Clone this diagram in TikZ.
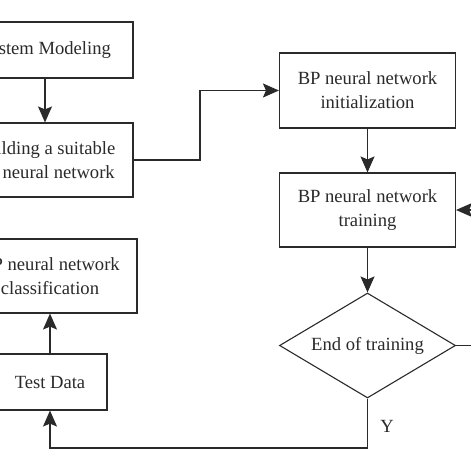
\documentclass[tikz,border=0pt]{standalone}
\usepackage{fontspec}
\setmainfont{Liberation Serif}
\usetikzlibrary{shapes.geometric,arrows.meta}
\definecolor{ink}{HTML}{2A2A2A}
\begin{document}
\begin{tikzpicture}[x=1pt,y=-1pt,
  every node/.style={font=\fontsize{18.6}{24}\selectfont, text=ink, align=center},
  procbox/.style={draw=ink, line width=1.1pt, rectangle, inner sep=0pt},
  decision/.style={draw=ink, line width=1.1pt, diamond, aspect=1.7, inner sep=0pt, minimum width=176pt, minimum height=105pt},
  conn/.style={draw=ink, line width=1.1pt},
  arr/.style={conn, -{Stealth[length=16pt,width=14pt,inset=3pt]}}]
\useasboundingbox (0,0) rectangle (470,470);
\fill[white] (0,0) rectangle (470,470);
\node[procbox, minimum width=176pt, minimum height=56pt] (model) at (45,50) {System Modeling};
\node[procbox, minimum width=176pt, minimum height=74pt] (build) at (45,160) {Building a suitable\\BP neural network};
\node[procbox, minimum width=176pt, minimum height=75pt] (init) at (367.5,90.5) {BP neural network\\initialization};
\node[procbox, minimum width=176pt, minimum height=74pt] (train) at (367.5,210) {BP neural network\\training};
\node[decision] (end) at (367.5,345.5) {End of training};
\node[procbox, minimum width=174pt, minimum height=74pt] (cls) at (50,276) {BP neural network\\classification};
\node[procbox, minimum width=114pt, minimum height=56pt] (test) at (50,382) {Test Data};
\coordinate (b1) at (200,160);
\coordinate (b2) at (200,90.5);
\coordinate (y1) at (367.5,448);
\coordinate (y2) at (50,448);
\coordinate (n1) at (490,345.5);
\coordinate (n2) at (490,210);
\draw[arr] (model) -- (build);
\draw[arr] (build.east) -- (b1) -- (b2) -- (init.west);
\draw[arr] (init) -- (train);
\draw[arr] (train) -- (end);
\draw[arr] (end.south) -- (y1) -- (y2) -- (test.south);
\draw[arr] (test) -- (cls);
\draw[arr] (end.east) -- (n1) -- (n2) -- (train.east);
\node (ylab) at (387,426) {Y};
\end{tikzpicture}
\end{document}
